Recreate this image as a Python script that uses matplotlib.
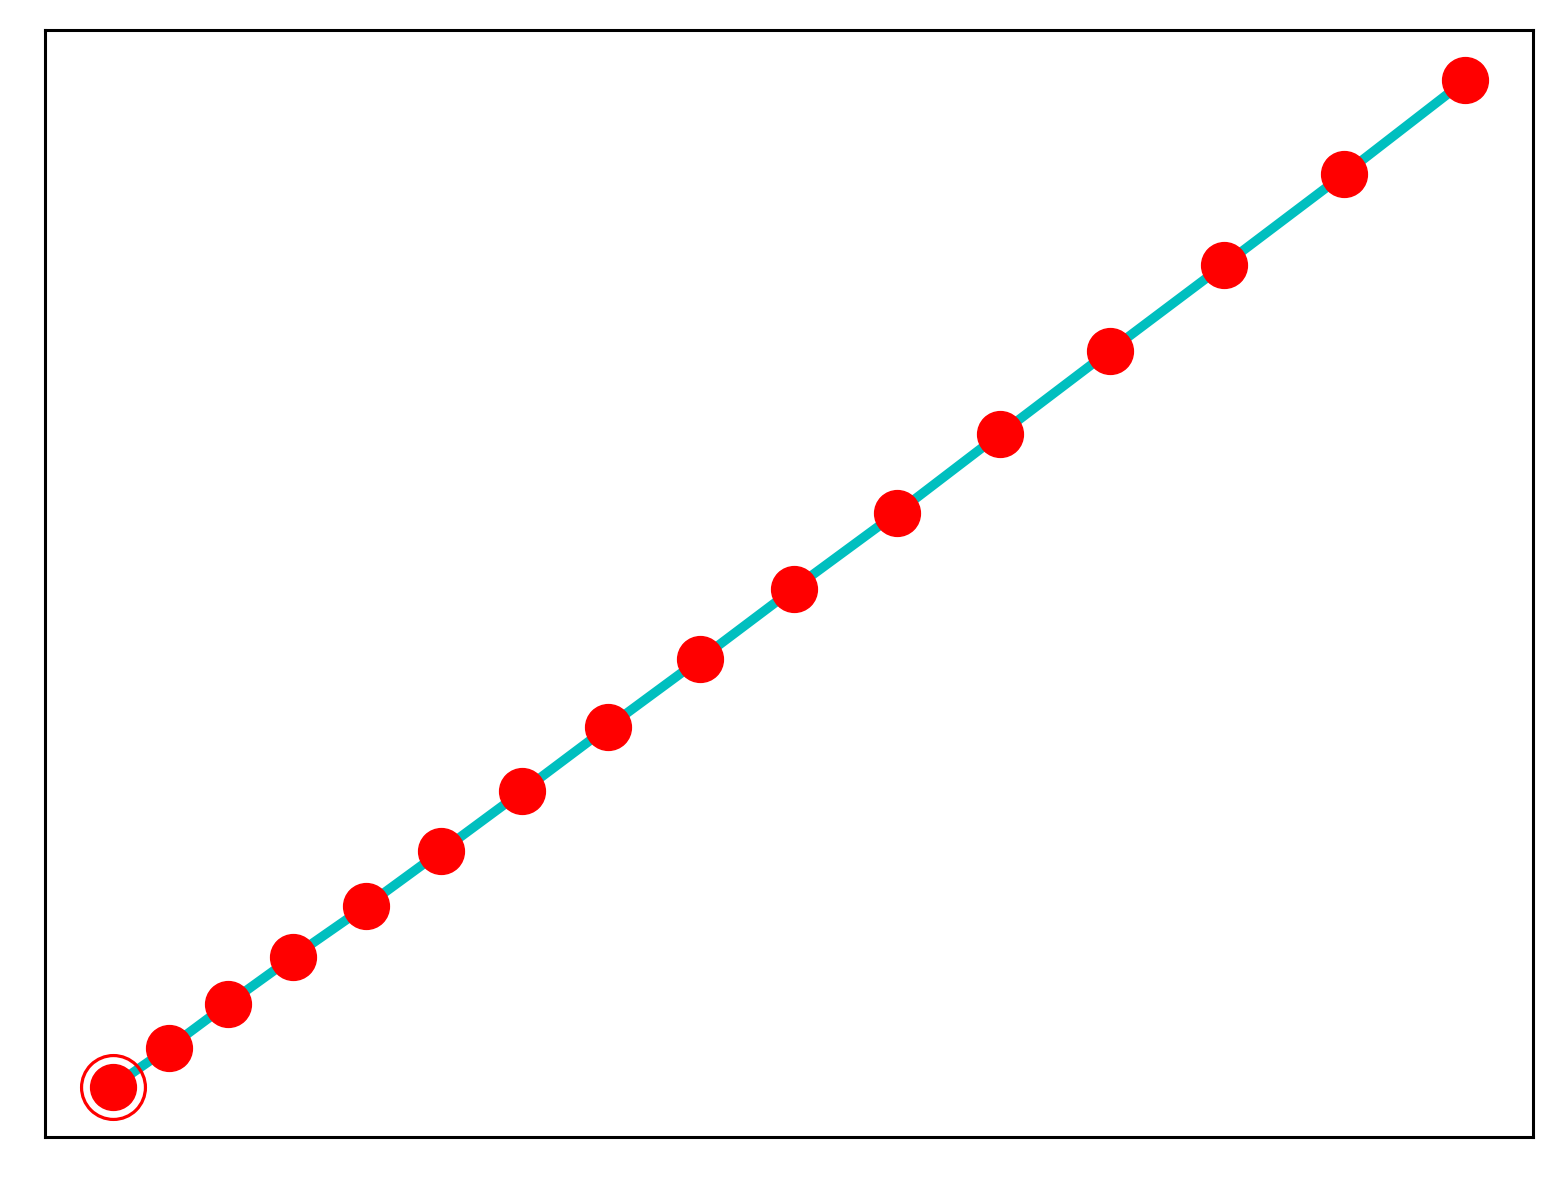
import matplotlib
matplotlib.use('Agg')
import matplotlib.pyplot as plt
import numpy as np

# values (no ticks, so units are arbitrary)
x_vals = [0.0, 0.56, 1.15, 1.80, 2.53, 3.28, 4.09, 4.94, 5.86, 6.80, 7.83, 8.86, 9.95, 11.09, 12.29, 13.50]
y_vals = [0.0, 0.39, 0.83, 1.30, 1.81, 2.36, 2.96, 3.60, 4.28, 4.99, 5.75, 6.54, 7.37, 8.23, 9.14, 10.08]

# first point gets an extra ring around it
start_x = [x_vals[0]]
start_y = [y_vals[0]]

fig = plt.figure(figsize=(15.62, 11.83), dpi=100)
ax = fig.add_axes([0.0288, 0.0389, 0.9526, 0.9357])

ax.plot(x_vals, y_vals, '-', color='c', linewidth=6.8, zorder=1)
ax.plot(x_vals, y_vals, 'o', color='r', markersize=33, zorder=2)
ax.plot(start_x, start_y, 'o', markerfacecolor='none', markeredgecolor='r',
        markersize=46, markeredgewidth=2.3, zorder=3)

ax.set_xticks([])
ax.set_yticks([])
for s in ax.spines.values():
    s.set_linewidth(2.2)

fig.savefig('out.png', dpi=100)
